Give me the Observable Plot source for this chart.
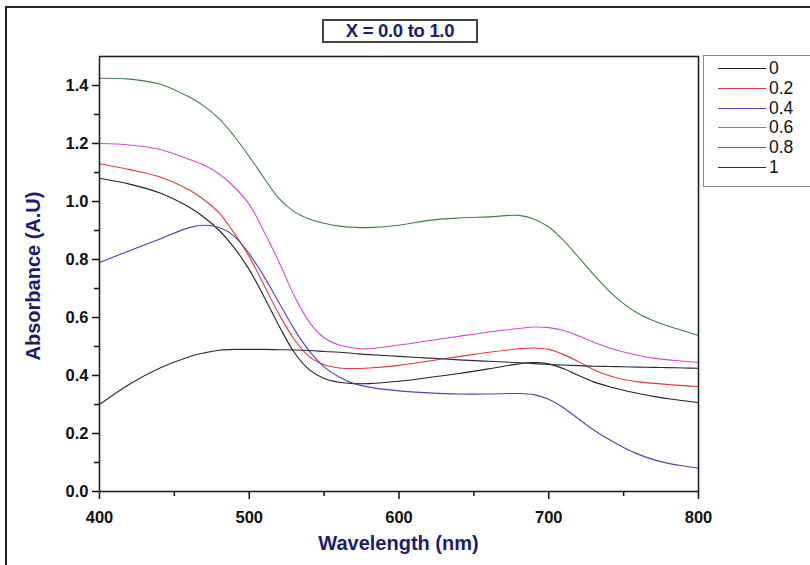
<!DOCTYPE html>
<html>
<head>
<meta charset="utf-8">
<script src="https://cdn.jsdelivr.net/npm/d3@7"></script>
<script src="https://cdn.jsdelivr.net/npm/@observablehq/plot@0.6"></script>
<style>
  html, body { margin: 0; padding: 0; background: #fff; overflow: hidden; }
  #wrap { position: relative; width: 810px; height: 565px; font-family: "Liberation Sans", Arial, sans-serif; }
  #outer { position: absolute; left: 5px; top: 6px; width: 830px; height: 600px; border: 2px solid #222; box-sizing: border-box; }
  #title { position: absolute; left: 322px; top: 19px; width: 156px; height: 24px; border: 2px solid #444; box-sizing: border-box;
           font-weight: bold; font-size: 18.5px; color: #1c1c6e; text-align: center; line-height: 20px; background: #fff; letter-spacing: -0.3px; }
  #legend { position: absolute; left: 703px; top: 55px; width: 130px; height: 132px; border: 1.5px solid #888; box-sizing: border-box; background: #fff; }
  .lg { position: absolute; left: 0; height: 20px; width: 120px; }
  .lg .ln { position: absolute; left: 14px; top: 10px; width: 48px; height: 0; border-top: 1.3px solid #000; }
  .lg .tx { position: absolute; left: 65px; top: 0; font-size: 17.5px; line-height: 20px; color: #111; }
  .axlab { position: absolute; font-weight: bold; font-size: 20px; color: #1c1c6e; white-space: nowrap; }
  #xlab { left: 0; width: 797px; top: 532px; text-align: center; }
  #ylab { left: 33px; top: 276px; transform: translate(-50%, -50%) rotate(-90deg); }
  #chart { position: absolute; left: 0; top: 0; }
</style>
</head>
<body>
<div id="wrap">
  <div id="outer"></div>
  <div id="chart"></div>
  <div id="title">X = 0.0 to 1.0</div>
  <div id="legend"></div>
  <div id="xlab" class="axlab">Wavelength (nm)</div>
  <div id="ylab" class="axlab">Absorbance (A.U)</div>
</div>
<script>
// ---- data ----
const wavelengths = [400,420,440,460,470,480,490,500,510,520,530,540,550,560,570,580,600,620,640,660,680,690,700,710,720,730,740,750,760,770,780,790,800];
const seriesNames = ["0", "0.2", "0.4", "0.6", "0.8", "1"];
const seriesColors = ["#222222", "#e03a3a", "#4646b4", "#cc4fd0", "#3f7f46", "#2a2a40"];
const abs_0   = [1.08,1.06,1.03,0.98,0.945,0.90,0.84,0.765,0.67,0.57,0.48,0.42,0.39,0.377,0.372,0.372,0.38,0.393,0.407,0.423,0.44,0.445,0.44,0.423,0.4,0.378,0.362,0.349,0.338,0.328,0.32,0.313,0.307];
const abs_02  = [1.13,1.11,1.085,1.04,1.005,0.96,0.89,0.81,0.71,0.61,0.525,0.465,0.437,0.426,0.424,0.426,0.435,0.45,0.465,0.48,0.492,0.495,0.49,0.472,0.447,0.42,0.4,0.386,0.378,0.373,0.369,0.365,0.362];
const abs_04  = [0.79,0.83,0.87,0.91,0.918,0.91,0.88,0.82,0.74,0.65,0.56,0.485,0.43,0.395,0.372,0.36,0.347,0.34,0.336,0.336,0.338,0.334,0.318,0.288,0.25,0.212,0.18,0.152,0.128,0.11,0.097,0.088,0.08];
const abs_06  = [1.20,1.195,1.18,1.145,1.125,1.095,1.05,0.99,0.895,0.79,0.675,0.585,0.53,0.505,0.495,0.492,0.505,0.52,0.535,0.55,0.562,0.567,0.565,0.555,0.536,0.515,0.496,0.481,0.469,0.46,0.454,0.449,0.445];
const abs_08  = [1.425,1.422,1.405,1.36,1.328,1.285,1.225,1.155,1.08,1.01,0.965,0.94,0.925,0.915,0.911,0.91,0.918,0.935,0.943,0.947,0.952,0.94,0.912,0.865,0.807,0.748,0.693,0.648,0.613,0.589,0.57,0.554,0.538];
const abs_1   = [0.30,0.37,0.425,0.465,0.478,0.487,0.49,0.49,0.49,0.489,0.488,0.486,0.483,0.48,0.476,0.472,0.466,0.46,0.454,0.449,0.444,0.441,0.438,0.436,0.434,0.432,0.431,0.43,0.429,0.428,0.427,0.426,0.425];
const xMajorTicks = [400, 500, 600, 700, 800];
const xMinorTicks = [450, 550, 650, 750];
const yMajorTicks = [0, 0.2, 0.4, 0.6, 0.8, 1.0, 1.2, 1.4];
const yMinorTicks = [0.1, 0.3, 0.5, 0.7, 0.9, 1.1, 1.3];

const allSeries = [abs_0, abs_02, abs_04, abs_06, abs_08, abs_1];
const rows = [];
allSeries.forEach((vals, i) => vals.forEach((v, j) => rows.push({s: seriesNames[i], wl: wavelengths[j], v})));

const chart = Plot.plot({
  width: 810, height: 565,
  marginLeft: 99, marginRight: 112, marginTop: 56, marginBottom: 74,
  x: {domain: [400, 800]},
  y: {domain: [0, 1.5]},
  color: {domain: seriesNames, range: seriesColors},
  style: {fontFamily: "'Liberation Sans', Arial, sans-serif", fontSize: "16.5px", fontWeight: "bold", color: "#111", background: "transparent", overflow: "visible"},
  marks: [
    Plot.line(rows, {x: "wl", y: "v", z: "s", stroke: "s", curve: "catmull-rom", strokeWidth: 1.1}),
    Plot.frame({stroke: "#222", strokeWidth: 1.6}),
    Plot.axisX({ticks: xMajorTicks, tickSize: 8, tickPadding: 12, tickFormat: d => String(d), label: null, strokeWidth: 1.5}),
    Plot.axisX({ticks: xMinorTicks, tickSize: 5, tickFormat: () => "", label: null, strokeWidth: 1.5}),
    Plot.axisY({ticks: yMajorTicks, tickSize: 7, tickPadding: 4, tickFormat: d3.format(".1f"), label: null, strokeWidth: 1.5}),
    Plot.axisY({ticks: yMinorTicks, tickSize: 5, tickFormat: () => "", label: null, strokeWidth: 1.5})
  ]
});
document.getElementById("chart").appendChild(chart);

const lg = document.getElementById("legend");
seriesNames.forEach((n, i) => {
  const d = document.createElement("div");
  d.className = "lg";
  d.style.top = (2 + i * 19.8) + "px";
  d.innerHTML = `<div class="ln" style="border-top-color:${seriesColors[i]}"></div><div class="tx">${n}</div>`;
  lg.appendChild(d);
});
</script>
</body>
</html>
